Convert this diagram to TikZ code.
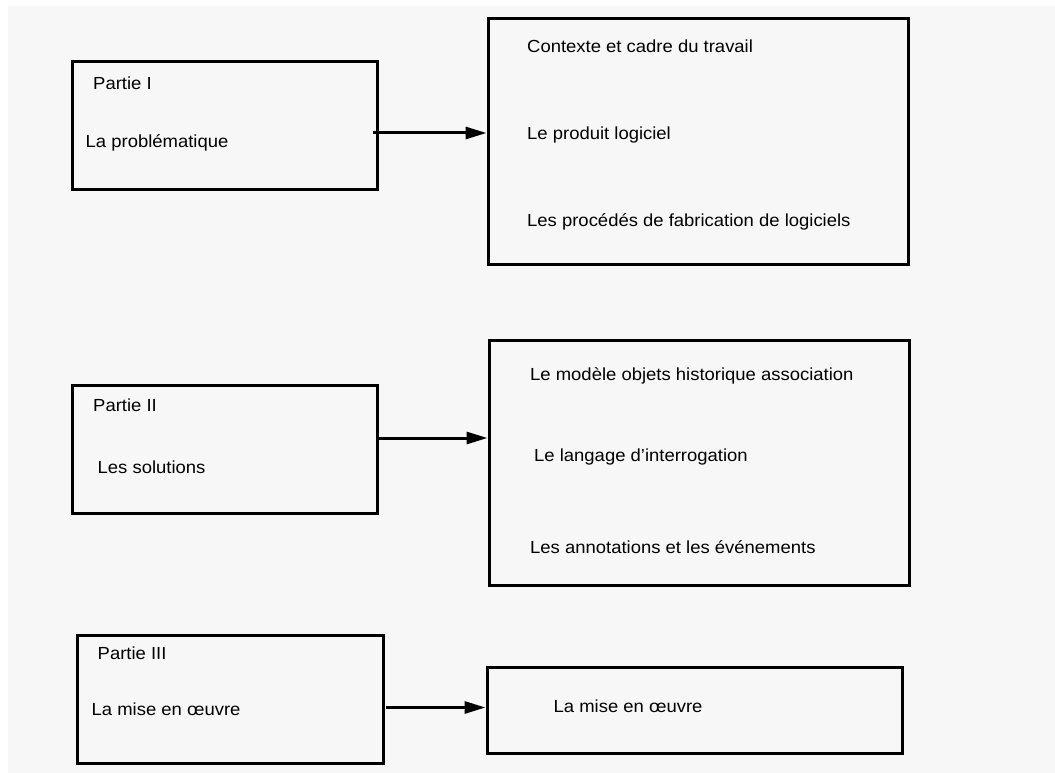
\documentclass[tikz,border=0pt]{standalone}
\usepackage{fontspec}
\setmainfont[FakeStretch=1.055]{Liberation Sans}
\usetikzlibrary{arrows.meta}
\definecolor{bggray}{HTML}{F7F7F7}
\tikzset{
  box/.style={draw=black, line width=3pt, rectangle, inner sep=0pt, fill=none},
  txt/.style={anchor=base west, inner sep=0pt, font=\fontsize{17.5}{21}\selectfont, text=black},
  arr/.style={draw=black, line width=3pt, -{Triangle[length=21pt,width=12pt]}}
}
\begin{document}
\begin{tikzpicture}[x=1pt,y=-1pt]
\useasboundingbox (0,0) rectangle (1055,773);
\fill[bggray] (8,6) rectangle (1056,774);
% boxes
\node[box, minimum width=305pt, minimum height=127pt] (L1) at (224.5,125.5) {};
\node[box, minimum width=420pt, minimum height=245pt] (R1) at (698,141.5) {};
\node[box, minimum width=305pt, minimum height=128pt] (L2) at (225,449.5) {};
\node[box, minimum width=420pt, minimum height=245pt] (R2) at (699,463) {};
\node[box, minimum width=306pt, minimum height=128pt] (L3) at (230.5,699) {};
\node[box, minimum width=415pt, minimum height=86pt] (R3) at (694.5,710) {};
% texts
\node[txt] (pI) at (93,89.5) {Partie I};
\node[txt] (lp) at (85.5,148) {La problématique};
\node[txt] (c1) at (527,53) {Contexte et cadre du travail};
\node[txt] (c2) at (527,140) {Le produit logiciel};
\node[txt] (c3) at (527,226) {Les procédés de fabrication de logiciels};
\node[txt] (pII) at (93,411.5) {Partie II};
\node[txt] (ls) at (97.5,473) {Les solutions};
\node[txt] (d1) at (530,380.5) {Le modèle objets historique association};
\node[txt] (d2) at (534,461) {Le langage d’interrogation};
\node[txt] (d3) at (530,553) {Les annotations et les événements};
\node[txt] (pIII) at (97.5,659) {Partie III};
\node[txt] (lm) at (91.5,715) {La mise en œuvre};
\node[txt] (rm) at (553.5,712.5) {La mise en œuvre};
% arrows
\coordinate (a1) at (373,133);
\coordinate (a2) at (377,438);
\coordinate (a3) at (385.5,707.5);
\draw[arr] (a1) -- (a1 -| R1.west);
\draw[arr] (a2) -- (a2 -| R2.west);
\draw[arr] (a3) -- (a3 -| R3.west);
\end{tikzpicture}
\end{document}
